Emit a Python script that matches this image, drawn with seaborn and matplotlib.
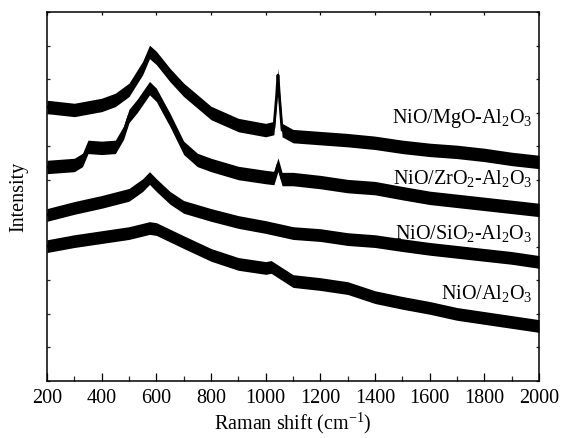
import numpy as np
import pandas as pd
import matplotlib
matplotlib.use("Agg")
import matplotlib.pyplot as plt
import seaborn as sns

# Raman shift sample points (cm^-1) and intensities (a.u.) for each catalyst
shift_mgo = [200, 300, 400, 450, 500, 550, 575, 600, 650, 700, 800, 900, 1000, 1030,
             1040, 1045, 1050, 1060, 1100, 1200, 1300, 1400, 1500, 1600, 1700, 1800,
             1900, 2000]
int_mgo = [8170, 8080, 8230, 8380, 8680, 9330, 9810, 9630, 9120, 8680, 7990, 7630, 7480,
           7540, 8500, 9120, 8500, 7480, 7300, 7240, 7180, 7100, 6980, 6890, 6830, 6740,
           6620, 6530]

shift_zro2 = [200, 300, 330, 350, 400, 450, 480, 500, 530, 575, 600, 650, 700, 750, 800,
              900, 1000, 1030, 1045, 1060, 1100, 1200, 1300, 1400, 1500, 1600, 1700, 1800,
              1900, 2000]
int_zro2 = [6380, 6440, 6590, 6980, 6950, 6980, 7400, 7900, 8200, 8730, 8530, 7780, 6950,
            6590, 6440, 6200, 6080, 6050, 6450, 6020, 6020, 5930, 5810, 5750, 5600, 5460,
            5370, 5280, 5190, 5100]

shift_sio2 = [200, 300, 400, 500, 550, 575, 600, 650, 700, 800, 900, 1000, 1100, 1200,
              1300, 1400, 1500, 1600, 1700, 1800, 1900, 2000]
int_sio2 = [4950, 5160, 5340, 5550, 5840, 6050, 5840, 5460, 5190, 4950, 4740, 4590, 4410,
            4350, 4230, 4170, 4050, 3940, 3850, 3760, 3670, 3550]

shift_al2o3 = [200, 300, 400, 500, 575, 600, 700, 800, 900, 1000, 1020, 1100, 1200, 1300,
               1400, 1500, 1600, 1700, 1800, 1900, 2000]
int_al2o3 = [4020, 4170, 4290, 4410, 4560, 4530, 4140, 3760, 3490, 3370, 3400, 2980, 2890,
             2770, 2500, 2330, 2180, 2000, 1880, 1760, 1640]

# half-width of the noise envelope around each trace (a.u.)
noise = [200, 200, 190, 190]

names = [r"NiO/MgO-Al$_2$O$_3$", r"NiO/ZrO$_2$-Al$_2$O$_3$",
         r"NiO/SiO$_2$-Al$_2$O$_3$", r"NiO/Al$_2$O$_3$"]
label_y = [7840, 6050, 4410, 2620]

x_ticks = [200, 400, 600, 800, 1000, 1200, 1400, 1600, 1800, 2000]

sns.set_theme(style="ticks")
plt.rcParams["font.family"] = ["Liberation Serif", "DejaVu Serif"]
plt.rcParams["mathtext.fontset"] = "custom"
plt.rcParams["mathtext.rm"] = "Liberation Serif"
plt.rcParams["mathtext.it"] = "Liberation Serif:italic"
plt.rcParams["mathtext.bf"] = "Liberation Serif:bold"

series = [(shift_mgo, int_mgo), (shift_zro2, int_zro2),
          (shift_sio2, int_sio2), (shift_al2o3, int_al2o3)]

frames = []
for name, (sx, sy) in zip(names, series):
    frames.append(pd.DataFrame({"shift": sx, "intensity": sy, "sample": name}))
df = pd.concat(frames, ignore_index=True)

fig = plt.figure(figsize=(5.63, 4.38), dpi=100)
ax = fig.add_axes([0.0835, 0.1301, 0.8739, 0.8425])

for (sx, sy), hw in zip(series, noise):
    sx = np.asarray(sx, float)
    sy = np.asarray(sy, float)
    ax.fill_between(sx, sy - hw, sy + hw, color="black", linewidth=0)

sns.lineplot(data=df, x="shift", y="intensity", hue="sample",
             palette=["black"] * 4, legend=False, linewidth=2.0, ax=ax, sort=False,
             estimator=None)

for name, ly in zip(names, label_y):
    ax.text(1975, ly, name, ha="right", va="center", fontsize=14.5, color="black")

ax.set_xlim(200, 2000)
ax.set_ylim(0, 11000)
ax.set_xticks(x_ticks)
ax.set_xticks(np.arange(300, 2000, 200), minor=True)
ax.set_yticks(np.arange(0, 11001, 1000))
ax.set_yticklabels([])
ax.tick_params(axis="x", which="major", direction="in", length=6, width=0.9,
               labelsize=14.5, pad=6, top=True, colors="black")
ax.tick_params(axis="x", which="minor", direction="in", length=3.5, width=0.9, top=False)
ax.tick_params(axis="y", which="major", direction="in", length=2.5, width=0.9,
               left=True, right=True)
ax.xaxis.set_tick_params(which="major", length=6)
for t in ax.xaxis.get_major_ticks():
    t.tick2line.set_markersize(2)
ax.set_xlabel("Raman shift (cm$^{-1}$)", fontsize=14.5, labelpad=2, color="black")
ax.set_ylabel("Intensity", fontsize=14.5, labelpad=10, color="black")
for sp in ax.spines.values():
    sp.set_visible(True)
    sp.set_linewidth(1.1)
    sp.set_color("black")

fig.savefig("out.png", dpi=100)
